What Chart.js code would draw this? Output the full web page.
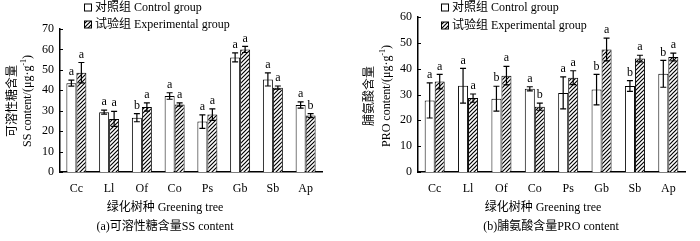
<!DOCTYPE html>
<html>
<head>
<meta charset="utf-8">
<script src="https://cdn.jsdelivr.net/npm/chart.js@4"></script>
<style>
    body { margin: 0; background: #fff; }
    .panel { position: absolute; top: 0; width: 350px; height: 241px; }
</style>
</head>
<body>
<div class="panel" style="left:0"><canvas id="ss-chart" width="350" height="241"></canvas></div>
<div class="panel" style="left:350px"><canvas id="pro-chart" width="350" height="241"></canvas></div>
<script>
// Tree species (x categories)
const categories = ['Cc', 'Ll', 'Of', 'Co', 'Ps', 'Gb', 'Sb', 'Ap'];

// (a) soluble sugar content
const ssControl = [43.5, 29.3, 26.6, 37.2, 24.7, 56.1, 45.3, 32.8];
const ssControlErr = [1.5, 1.0, 2.0, 1.6, 3.3, 2.2, 3.2, 1.5];
const ssExp = [48.6, 26.0, 31.8, 33.0, 28.1, 60.0, 41.3, 27.6];
const ssExpErr = [5.0, 3.7, 2.0, 0.8, 2.8, 1.5, 0.8, 1.0];
const ssControlSig = ['a', 'a', 'b', 'a', 'a', 'a', 'a', 'a'];
const ssExpSig = ['a', 'a', 'a', 'a', 'a', 'a', 'a', 'b'];
const ssTicks = [0, 10, 20, 30, 40, 50, 60, 70];

// (b) proline content
const proControl = [27.7, 33.4, 28.4, 32.2, 30.6, 31.9, 33.3, 38.0];
const proControlErr = [6.8, 6.7, 4.8, 0.8, 6.2, 5.9, 2.1, 5.2];
const proExp = [35.0, 28.6, 37.3, 25.3, 36.5, 47.4, 43.9, 44.5];
const proExpErr = [2.8, 1.6, 3.6, 1.4, 2.7, 4.4, 1.3, 1.5];
const proControlSig = ['a', 'a', 'b', 'a', 'a', 'b', 'b', 'b'];
const proExpSig = ['a', 'a', 'a', 'b', 'a', 'a', 'a', 'a'];
const proTicks = [0, 10, 20, 30, 40, 50, 60];

const SERIF = '"Liberation Serif", "Times New Roman", "Noto Sans CJK SC", serif';

// diagonal hatch for the experimental group
function makeHatch() {
    const c = document.createElement('canvas');
    c.width = 4;
    c.height = 4;
    const p = c.getContext('2d');
    p.fillStyle = '#fff';
    p.fillRect(0, 0, 4, 4);
    p.strokeStyle = '#000';
    p.lineWidth = 1.2;
    p.beginPath();
    p.moveTo(0, 4); p.lineTo(4, 0);
    p.moveTo(-1, 1); p.lineTo(1, -1);
    p.moveTo(3, 5); p.lineTo(5, 3);
    p.stroke();
    return p.createPattern(c, 'repeat');
}

// draws "μg·g-1" style unit with a raised -1
function drawUnitTitle(ctx, parts, cx, cy) {
    ctx.save();
    ctx.translate(cx, cy);
    ctx.rotate(-Math.PI / 2);
    ctx.textBaseline = 'middle';
    ctx.textAlign = 'left';
    const big = '12px ' + SERIF;
    const small = '8px ' + SERIF;
    let total = 0;
    parts.forEach(pt => {
        ctx.font = pt.sup ? small : big;
        total += ctx.measureText(pt.t).width;
    });
    let x = -total / 2;
    parts.forEach(pt => {
        ctx.font = pt.sup ? small : big;
        ctx.fillText(pt.t, x, pt.sup ? -4 : 0);
        x += ctx.measureText(pt.t).width;
    });
    ctx.restore();
}

const decorPlugin = {
    id: 'decor',
    afterDatasetsDraw(chart, args, opts) {
        const ctx = chart.ctx;
        const yScale = chart.scales.y;
        const area = chart.chartArea;
        ctx.save();

        // inward tick marks on the y axis
        ctx.strokeStyle = '#000';
        ctx.lineWidth = 1;
        opts.ticks.forEach(v => {
            const py = Math.round(yScale.getPixelForValue(v)) + 0.5;
            ctx.beginPath();
            ctx.moveTo(area.left, py);
            ctx.lineTo(area.left + 3, py);
            ctx.stroke();
        });

        // error bars and significance letters
        opts.errors.forEach((errs, di) => {
            const meta = chart.getDatasetMeta(di);
            const vals = chart.data.datasets[di].data;
            meta.data.forEach((bar, i) => {
                const top = yScale.getPixelForValue(vals[i] + errs[i]);
                const bot = yScale.getPixelForValue(vals[i] - errs[i]);
                ctx.lineWidth = 1.2;
                ctx.beginPath();
                ctx.moveTo(bar.x, top);
                ctx.lineTo(bar.x, bot);
                ctx.moveTo(bar.x - 3, top);
                ctx.lineTo(bar.x + 3, top);
                ctx.moveTo(bar.x - 3, bot);
                ctx.lineTo(bar.x + 3, bot);
                ctx.stroke();

                ctx.fillStyle = '#000';
                ctx.font = '12px ' + SERIF;
                ctx.textAlign = 'center';
                ctx.textBaseline = 'bottom';
                ctx.fillText(opts.letters[di][i], bar.x, top - 2);
            });
        });

        // legend
        ctx.font = '12px ' + SERIF;
        ctx.textAlign = 'left';
        ctx.textBaseline = 'middle';
        const lg = opts.legend;
        ctx.lineWidth = 1;
        ctx.fillStyle = '#fff';
        ctx.fillRect(lg.x + 0.5, lg.y1 - 3.5, 7, 7);
        ctx.strokeRect(lg.x + 0.5, lg.y1 - 3.5, 7, 7);
        ctx.fillStyle = hatch;
        ctx.fillRect(lg.x + 0.5, lg.y2 - 3.5, 7, 7);
        ctx.strokeRect(lg.x + 0.5, lg.y2 - 3.5, 7, 7);
        ctx.fillStyle = '#000';
        ctx.fillText('对照组 Control group', lg.x + 11, lg.y1);
        ctx.fillText('试验组 Experimental group', lg.x + 11, lg.y2);

        // y axis titles (two rotated lines)
        ctx.save();
        ctx.translate(opts.yTitle.x1, opts.yTitle.cy);
        ctx.rotate(-Math.PI / 2);
        ctx.textAlign = 'center';
        ctx.fillText(opts.yTitle.cn, 0, 0);
        ctx.restore();
        drawUnitTitle(ctx, opts.yTitle.unit, opts.yTitle.x2, opts.yTitle.cy);

        // x axis title and caption
        ctx.textAlign = 'center';
        ctx.fillText('绿化树种 Greening tree', opts.xTitleX, 208);
        ctx.fillText(opts.caption, opts.captionX, 227);

        ctx.restore();
    }
};

const hatch = makeHatch();

function buildChart(id, cfg) {
    return new Chart(document.getElementById(id), {
        type: 'bar',
        data: {
            labels: categories,
            datasets: [
                {
                    label: '对照组 Control group',
                    data: cfg.control,
                    backgroundColor: '#fff',
                    borderColor: '#000',
                    borderWidth: 1,
                    borderSkipped: 'bottom'
                },
                {
                    label: '试验组 Experimental group',
                    data: cfg.exp,
                    backgroundColor: hatch,
                    borderColor: '#000',
                    borderWidth: 1,
                    borderSkipped: 'bottom'
                }
            ]
        },
        options: {
            responsive: false,
            animation: false,
            devicePixelRatio: 1,
            categoryPercentage: cfg.catPct,
            barPercentage: 1,
            layout: { padding: { left: 0, top: cfg.top, right: cfg.right, bottom: 0 } },
            plugins: {
                legend: { display: false },
                tooltip: { enabled: false },
                decor: {
                    ticks: cfg.ticks,
                    errors: [cfg.controlErr, cfg.expErr],
                    letters: [cfg.controlSig, cfg.expSig],
                    legend: cfg.legend,
                    yTitle: cfg.yTitle,
                    xTitleX: cfg.xTitleX,
                    caption: cfg.caption,
                    captionX: cfg.captionX
                }
            },
            scales: {
                x: {
                    grid: { display: false, drawTicks: false },
                    border: { display: true, color: '#000', width: 1.5 },
                    ticks: {
                        color: '#000',
                        padding: 10,
                        maxRotation: 0,
                        font: { family: SERIF, size: 12 }
                    },
                    afterFit: s => { s.height = 69; }
                },
                y: {
                    min: cfg.ticks[0],
                    max: cfg.ticks[cfg.ticks.length - 1],
                    grid: { display: false, drawTicks: false },
                    border: { display: true, color: '#000', width: 1.5 },
                    ticks: {
                        stepSize: cfg.ticks[1] - cfg.ticks[0],
                        color: '#000',
                        padding: 6,
                        font: { family: SERIF, size: 12 }
                    },
                    afterFit: s => { s.width = cfg.left; }
                }
            }
        },
        plugins: [decorPlugin]
    });
}

buildChart('ss-chart', {
    control: ssControl, exp: ssExp,
    controlErr: ssControlErr, expErr: ssExpErr,
    controlSig: ssControlSig, expSig: ssExpSig,
    ticks: ssTicks,
    catPct: 0.61,
    left: 60, top: 29, right: 28,
    legend: { x: 84, y1: 7.5, y2: 24.5 },
    yTitle: {
        x1: 13, x2: 28, cy: 101,
        cn: '可溶性糖含量',
        unit: [{ t: 'SS content/(μg·g' }, { t: '-1', sup: true }, { t: ')' }]
    },
    xTitleX: 165,
    caption: '(a)可溶性糖含量SS content',
    captionX: 165
});

buildChart('pro-chart', {
    control: proControl, exp: proExp,
    controlErr: proControlErr, expErr: proExpErr,
    controlSig: proControlSig, expSig: proExpSig,
    ticks: proTicks,
    catPct: 0.6,
    left: 68, top: 17, right: 15,
    legend: { x: 91, y1: 7.5, y2: 25.5 },
    yTitle: {
        x1: 20, x2: 37, cy: 96,
        cn: '脯氨酸含量',
        unit: [{ t: 'PRO content/(μg·g' }, { t: '-1', sup: true }, { t: ')' }]
    },
    xTitleX: 193,
    caption: '(b)脯氨酸含量PRO content',
    captionX: 201
});
</script>
</body>
</html>
